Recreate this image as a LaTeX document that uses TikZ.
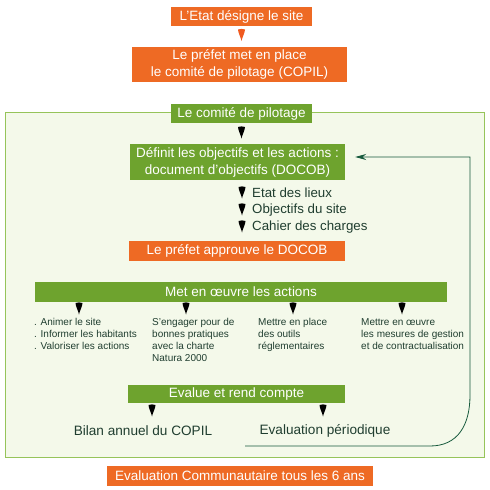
\documentclass[tikz,border=0pt]{standalone}
\usepackage{fontspec}
\setmainfont{Liberation Sans}
\usetikzlibrary{calc,arrows.meta}
\definecolor{orng}{RGB}{238,106,36}
\definecolor{grn}{RGB}{110,163,46}
\definecolor{frm}{RGB}{150,196,90}
\definecolor{frmfill}{RGB}{244,249,234}
\definecolor{dgrn}{RGB}{22,90,60}
\definecolor{txt}{RGB}{32,62,48}
\tikzset{
  obox/.style={fill=orng, text=white, inner sep=0pt, align=center, font=\fontsize{13.5}{17}\selectfont},
  gbox/.style={fill=grn, text=white, inner sep=0pt, align=center, font=\fontsize{13.5}{17}\selectfont},
  item/.style={text=txt, inner sep=0pt, anchor=west, font=\fontsize{13.3}{16}\selectfont},
  coltext/.style={text=txt, inner sep=0pt, anchor=north west, align=left, font=\fontsize{10}{12}\selectfont},
  bigitem/.style={text=txt, inner sep=0pt, font=\fontsize{13.6}{16}\selectfont},
  wedge/.pic={\fill[#1] (-3.5,0) .. controls (-3.2,4) and (-0.6,8) .. (0,11.5) .. controls (0.6,8) and (3.2,4) .. (3.5,0) .. controls (1,-0.8) and (-1,-0.8) .. cycle;},
  wedge/.default=dgrn,
  fb/.style={draw=dgrn, line width=0.8pt}
}
\begin{document}
\begin{tikzpicture}[x=1pt,y=-1pt]
\useasboundingbox[fill=white] (0,0) rectangle (490,490);
% frame
\draw[frm, fill=frmfill, line width=1pt] (5,112) rectangle (484,457);
% top boxes
\node[obox, minimum width=141pt, minimum height=19pt] (etat) at (241.5,16.5) {L'Etat désigne le site};
\node[obox, minimum width=215pt, minimum height=35pt] (prefet) at (239.5,64.5) {Le préfet met en place\\le comité de pilotage (COPIL)};
\pic at (241.5,29.5) {wedge=orng!85!red};
\node[gbox, minimum width=141pt, minimum height=19pt] (copil) at (241.5,113.5) {Le comité de pilotage};
\pic at (241.5,127) {wedge};
\node[gbox, minimum width=215pt, minimum height=36pt] (docob) at (237.5,162) {Définit les objectifs et les actions :\\document d'objectifs (DOCOB)};
% items
\pic at (242,187) {wedge};
\node[item] (i1) at (252,193) {Etat des lieux};
\pic at (242,204) {wedge};
\node[item] (i2) at (252,210) {Objectifs du site};
\pic at (242,221) {wedge};
\node[item] (i3) at (252,227) {Cahier des charges};
\node[obox, minimum width=216pt, minimum height=20pt] (approuve) at (237,251) {Le préfet approuve le DOCOB};
% actions
\node[gbox, minimum width=412pt, minimum height=20pt] (met) at (241,292) {Met en œuvre les actions};
\pic at (79,303) {wedge};
\pic at (186,303) {wedge};
\pic at (293,303) {wedge};
\pic at (402,303) {wedge};
\node[coltext] (c1) at (34,318) {. Animer le site\\. Informer les habitants\\. Valoriser les actions};
\node[coltext] (c2) at (152,318) {S'engager pour de\\bonnes pratiques\\avec la charte\\Natura 2000};
\node[coltext] (c3) at (258,318) {Mettre en place\\des outils\\réglementaires};
\node[coltext] (c4) at (361,318) {Mettre en œuvre\\les mesures de gestion\\et de contractualisation};
% evaluation
\node[gbox, minimum width=217pt, minimum height=18pt] (evalue) at (236.5,394) {Evalue et rend compte};
\pic at (152,405) {wedge};
\pic at (323,405) {wedge};
\node[bigitem] (bilan) at (143,431) {Bilan annuel du COPIL};
\node[bigitem] (perio) at (325,431) {Evaluation périodique};
\node[obox, minimum width=266pt, minimum height=20pt] (comm) at (240,476) {Evaluation Communautaire tous les 6 ans};
% feedback loop
\coordinate (fbstart) at (245,446);
\coordinate (fbcorner) at (470,157);
\draw[fb, -{Stealth[length=11pt,width=6pt]}] (fbstart) -- (430,446) .. controls (458,446) and (470,425) .. (470,395) -- (fbcorner) -- ($(docob.east)+(10,-5)$);
\end{tikzpicture}
\end{document}
